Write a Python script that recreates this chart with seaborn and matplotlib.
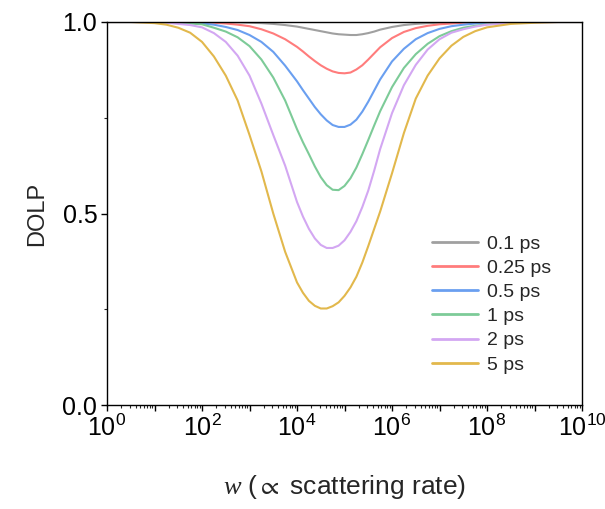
import numpy as np
import pandas as pd
import matplotlib
matplotlib.use("Agg")
import matplotlib.pyplot as plt
import matplotlib.ticker as mticker
import seaborn as sns

# log10(w) sample positions
log_w = [0, 0.5, 1.0, 1.25, 1.5, 1.75, 2.0, 2.25, 2.5, 2.75, 3.0, 3.25, 3.5, 3.75,
         4.0, 4.125, 4.25, 4.375, 4.5, 4.625, 4.75, 4.875, 5.0, 5.125, 5.25, 5.375, 5.5, 5.625, 5.75,
         6.0, 6.25, 6.5, 6.75, 7.0, 7.25, 7.5, 7.75, 8.0, 8.5, 9.0, 9.5, 10.0]

series_labels = ["0.1 ps", "0.25 ps", "0.5 ps", "1 ps", "2 ps", "5 ps"]

dolp_01 = [1, 1, 1, 1, 1, 1, 1, 1, 0.999, 0.999, 0.998, 0.997, 0.995, 0.992,
           0.988, 0.985, 0.982, 0.979, 0.976, 0.973, 0.970, 0.968, 0.967, 0.966, 0.966, 0.968, 0.971, 0.975, 0.980,
           0.987, 0.992, 0.995, 0.997, 0.998, 0.999, 1, 1, 1, 1, 1, 1, 1]
dolp_025 = [1, 1, 1, 1, 1, 1, 0.999, 0.998, 0.996, 0.993, 0.989, 0.981, 0.970, 0.955,
            0.935, 0.923, 0.910, 0.898, 0.887, 0.878, 0.871, 0.867, 0.866, 0.868, 0.876, 0.887, 0.902, 0.918, 0.934,
            0.958, 0.974, 0.984, 0.990, 0.994, 0.996, 0.998, 0.999, 1, 1, 1, 1, 1]
dolp_05 = [1, 1, 1, 1, 0.999, 0.998, 0.996, 0.993, 0.987, 0.979, 0.966, 0.948, 0.922, 0.886,
           0.845, 0.822, 0.800, 0.778, 0.759, 0.743, 0.731, 0.726, 0.726, 0.732, 0.745, 0.766, 0.792, 0.821, 0.850,
           0.897, 0.930, 0.955, 0.971, 0.982, 0.989, 0.993, 0.996, 0.998, 0.999, 1, 1, 1]
dolp_1 = [1, 1, 1, 0.999, 0.998, 0.996, 0.994, 0.985, 0.975, 0.960, 0.937, 0.902, 0.855, 0.795,
          0.720, 0.686, 0.655, 0.623, 0.595, 0.574, 0.562, 0.561, 0.572, 0.592, 0.620, 0.655, 0.692, 0.730, 0.767,
          0.830, 0.880, 0.916, 0.943, 0.963, 0.976, 0.985, 0.990, 0.994, 0.998, 1, 1, 1]
dolp_2 = [1, 1, 0.999, 0.998, 0.995, 0.992, 0.986, 0.971, 0.948, 0.912, 0.860, 0.787, 0.705, 0.625,
          0.530, 0.492, 0.460, 0.435, 0.418, 0.410, 0.410, 0.416, 0.430, 0.452, 0.480, 0.517, 0.560, 0.612, 0.668,
          0.762, 0.835, 0.888, 0.928, 0.955, 0.972, 0.981, 0.988, 0.993, 0.997, 0.999, 1, 1]
dolp_5 = [1, 1, 0.997, 0.993, 0.985, 0.972, 0.948, 0.910, 0.860, 0.795, 0.705, 0.610, 0.500, 0.400,
          0.320, 0.293, 0.272, 0.259, 0.252, 0.252, 0.258, 0.268, 0.285, 0.307, 0.335, 0.372, 0.415, 0.460, 0.505,
          0.605, 0.710, 0.800, 0.860, 0.905, 0.938, 0.961, 0.976, 0.986, 0.995, 0.998, 1, 1]

colors = ["#a0a0a0", "#ff7c7c", "#6a9ff0", "#7dcb98", "#d3a7f2", "#e2b84c"]

all_series = [dolp_01, dolp_025, dolp_05, dolp_1, dolp_2, dolp_5]
frames = []
for lab, vals in zip(series_labels, all_series):
    frames.append(pd.DataFrame({"w": np.power(10.0, log_w), "DOLP": vals, "tau": lab}))
df = pd.concat(frames, ignore_index=True)

sns.set_style("ticks")
plt.rcParams["font.family"] = ["Liberation Sans", "DejaVu Sans"]
plt.rcParams["mathtext.fontset"] = "custom"
plt.rcParams["mathtext.rm"] = "Liberation Sans"
plt.rcParams["mathtext.it"] = "Liberation Serif:italic"
plt.rcParams["mathtext.fallback"] = "stixsans"

fig = plt.figure(figsize=(6.05, 5.09), dpi=100)
ax = fig.add_axes([0.1769, 0.2043, 0.962 - 0.1769, 0.9568 - 0.2043])

sns.lineplot(data=df, x="w", y="DOLP", hue="tau", hue_order=series_labels,
             palette=colors, linewidth=1.5, ax=ax, legend=True)

ax.set_xscale("log")
ax.set_xlim(1, 1e10)
ax.set_ylim(0, 1.0)

ax.xaxis.set_major_locator(mticker.LogLocator(base=10, numticks=20))
def fmt(v, pos):
    e = int(round(np.log10(v)))
    if e % 2 == 0:
        return r"$\mathdefault{10^{%d}}$" % e
    return ""
ax.xaxis.set_major_formatter(mticker.FuncFormatter(fmt))
ax.xaxis.set_minor_locator(mticker.LogLocator(base=10, subs=np.arange(2, 10), numticks=100))
ax.xaxis.set_minor_formatter(mticker.NullFormatter())

ax.set_yticks([0.0, 0.5, 1.0])
ax.set_yticklabels(["0.0", "0.5", "1.0"])
ax.yaxis.set_minor_locator(mticker.FixedLocator([0.25, 0.75]))

ax.tick_params(axis="both", which="major", direction="out", length=4, width=1,
               labelsize=18, colors="black", pad=3)
ax.tick_params(axis="both", which="minor", direction="out", length=2.5, width=0.8)
ax.tick_params(top=False, right=False, which="both")

for s in ax.spines.values():
    s.set_visible(True)
    s.set_linewidth(1.0)
    s.set_color("black")

ax.set_ylabel("DOLP", fontsize=17, labelpad=10)
ax.set_xlabel(r"$\mathit{w}$ (${\propto}$ scattering rate)", fontsize=19, labelpad=23)

leg = ax.legend(loc="upper left", bbox_to_anchor=(0.684, 0.444), frameon=False,
                fontsize=14, handlelength=2.37, handletextpad=0.46,
                labelspacing=0.34, borderaxespad=0, borderpad=0)
for line in leg.get_lines():
    line.set_linewidth(2.0)

fig.savefig("out.png", dpi=100)
